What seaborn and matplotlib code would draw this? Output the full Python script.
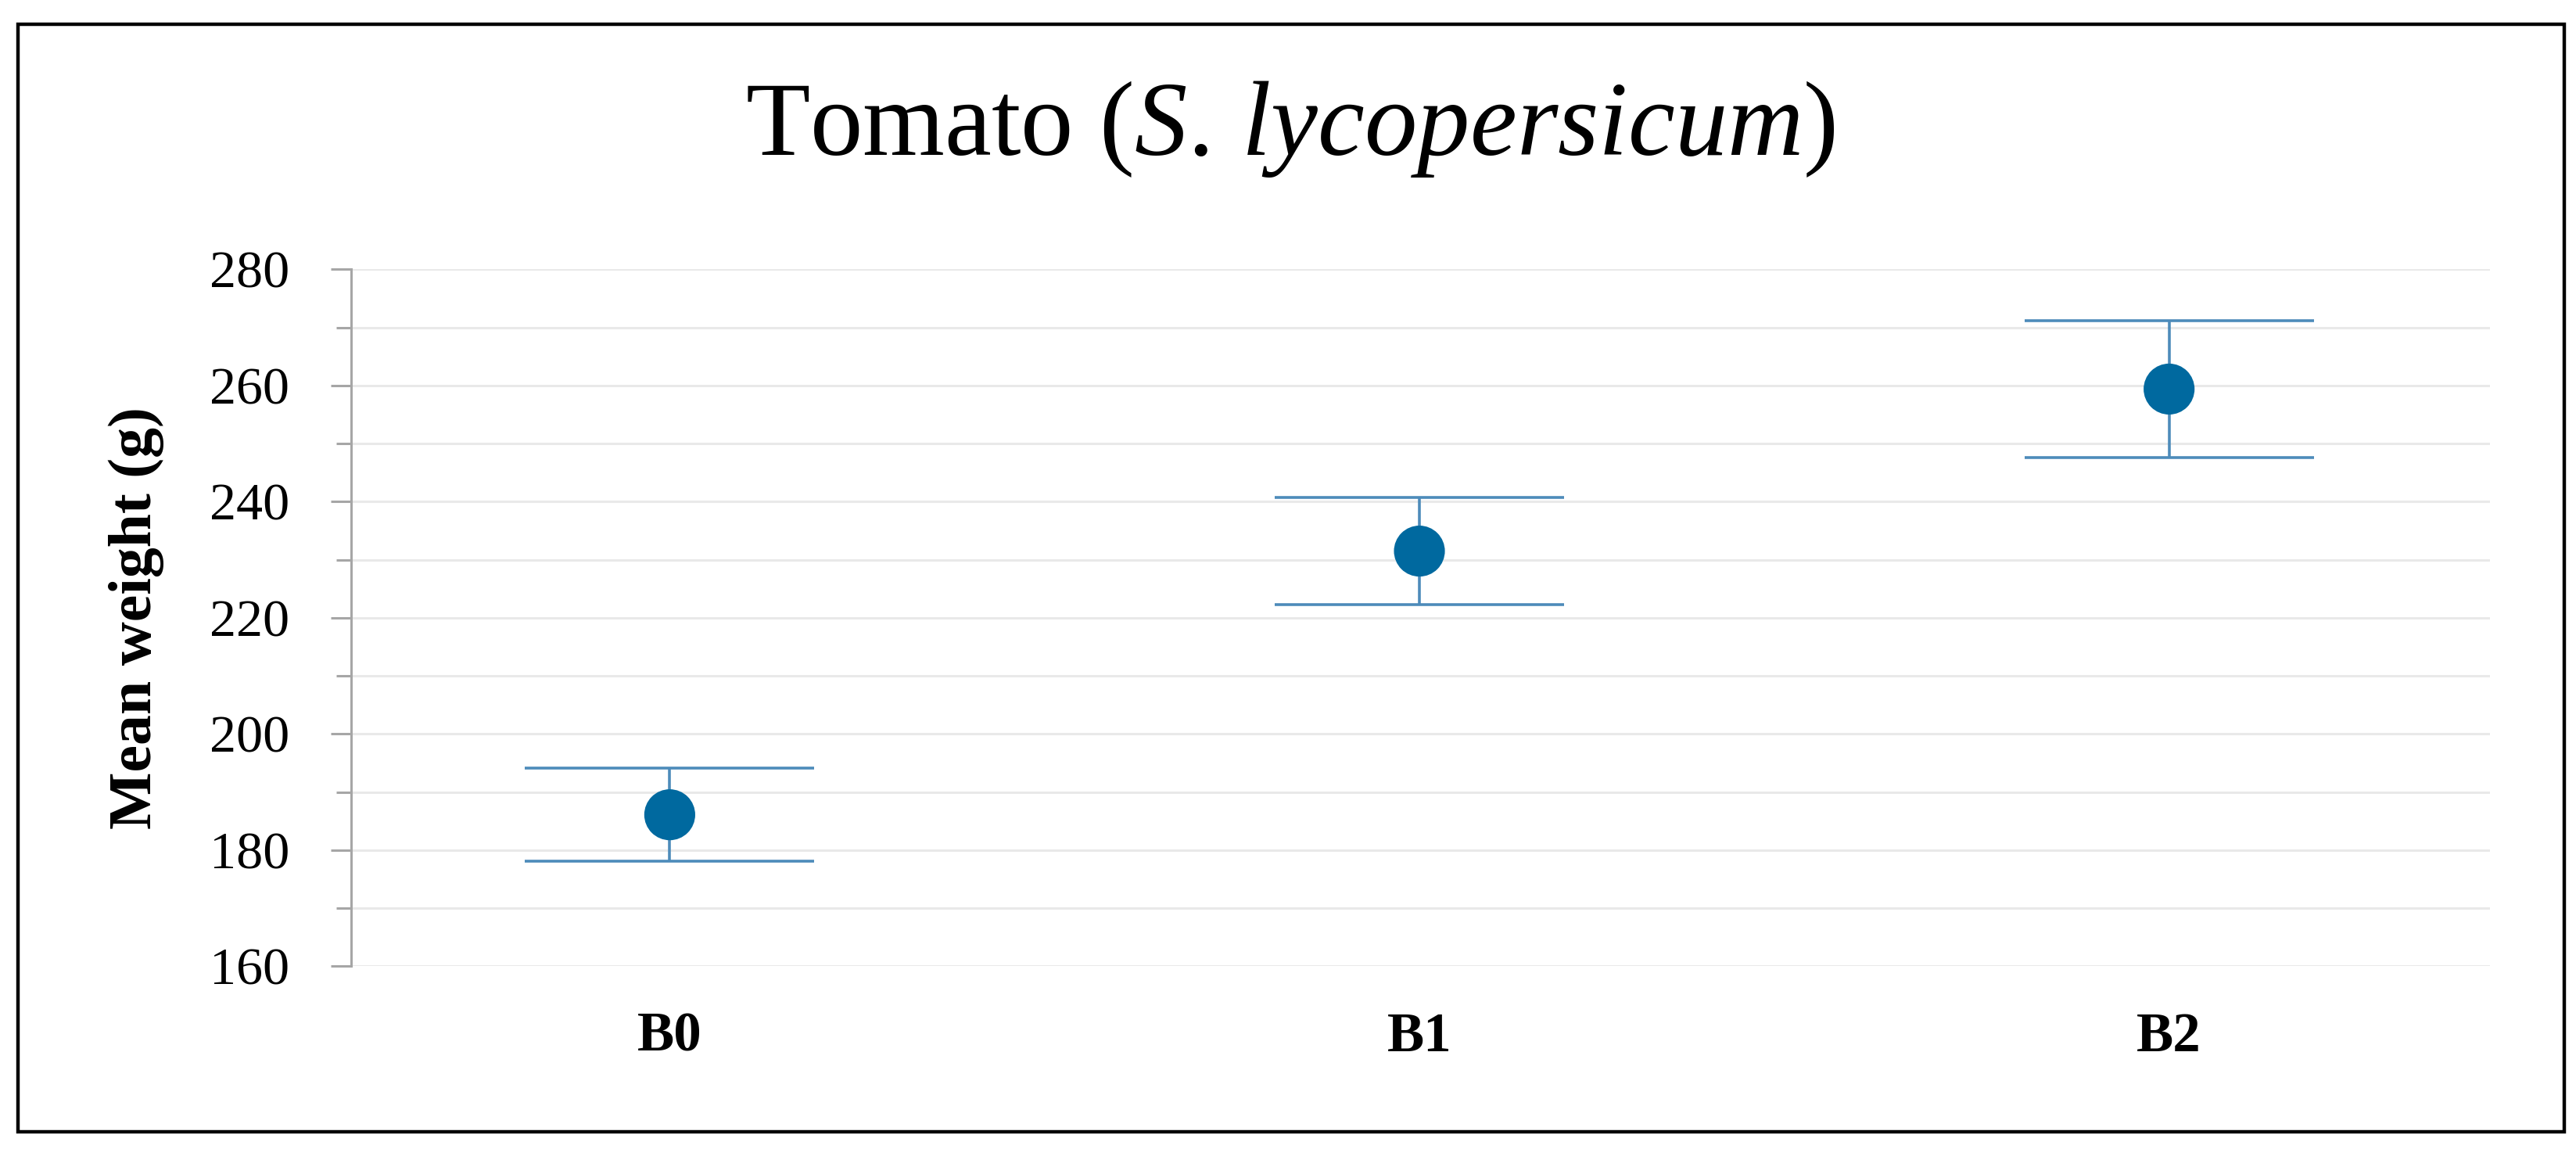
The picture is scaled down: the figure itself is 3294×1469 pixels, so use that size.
import matplotlib
matplotlib.use("Agg")
import matplotlib.pyplot as plt
import seaborn as sns
import pandas as pd
from matplotlib.ticker import MultipleLocator
from matplotlib.patches import Rectangle

# values
treatments = ["B0", "B1", "B2"]
mean_weight = [186.1, 231.5, 259.4]
error = [8.0, 9.2, 11.8]

sns.set_theme(style="white")
plt.rcParams['font.family'] = ['Liberation Serif', 'DejaVu Serif']
plt.rcParams['mathtext.fontset'] = 'custom'
plt.rcParams['mathtext.rm'] = 'Liberation Serif'
plt.rcParams['mathtext.it'] = 'Liberation Serif:italic'
plt.rcParams.update({'text.color': 'black', 'axes.labelcolor': 'black',
                     'xtick.color': 'black', 'ytick.color': 'black'})

df = pd.DataFrame({"treatment": treatments, "mean": mean_weight, "err": error})

fig = plt.figure(figsize=(32.94, 14.69), dpi=100)
ax = fig.add_axes([0.1363, 0.1590, 0.8303, 0.6065])

# gridlines every 10 g
ax.yaxis.set_major_locator(MultipleLocator(20))
ax.yaxis.set_minor_locator(MultipleLocator(10))
ax.grid(which='both', axis='y', color='#e9e9e9', linewidth=2.2, zorder=0)
ax.set_axisbelow(True)

x = range(len(df))
ax.errorbar(x, df["mean"], yerr=df["err"], fmt='none', ecolor='#4d8bba',
            elinewidth=2.6, capsize=133, capthick=2.6, zorder=2)
sns.scatterplot(data=df, x="treatment", y="mean", ax=ax, s=2200, color='#00699f',
                edgecolor='none', linewidth=0, zorder=3, legend=False)

ax.set_ylim(160, 280)
ax.set_xlim(-0.425, 2.428)

for side in ['top', 'right', 'bottom']:
    ax.spines[side].set_visible(False)
ax.spines['left'].set_color('#a6a6a6')
ax.spines['left'].set_linewidth(2.2)

ax.tick_params(axis='y', which='major', length=18.7, width=2.2, color='#a6a6a6',
               labelcolor='black', pad=38, labelsize=49, left=True)
ax.tick_params(axis='y', which='minor', length=13.5, width=2.2, color='#a6a6a6', left=True)
ax.tick_params(axis='x', length=0, pad=42, labelsize=51, labelcolor='black')
for lab in ax.get_xticklabels():
    lab.set_fontweight('bold')

ax.set_xlabel("")
ax.set_ylabel("Mean weight (g)", fontsize=56, fontweight='bold', va='center', color='black')
ax.yaxis.set_label_coords(-0.1005, 0.5)

fig.text(0.5009, 0.888, r"Tomato ($\mathit{S.\,lycopersicum}$)", fontsize=97,
         ha='center', va='center', color='black')

# outer chart border
fig.patches.append(Rectangle((0.007, 0.015), 0.9884, 0.9639, transform=fig.transFigure,
                             fill=False, edgecolor='black', linewidth=3.2))

fig.savefig("out.png", dpi=100, facecolor='white')
